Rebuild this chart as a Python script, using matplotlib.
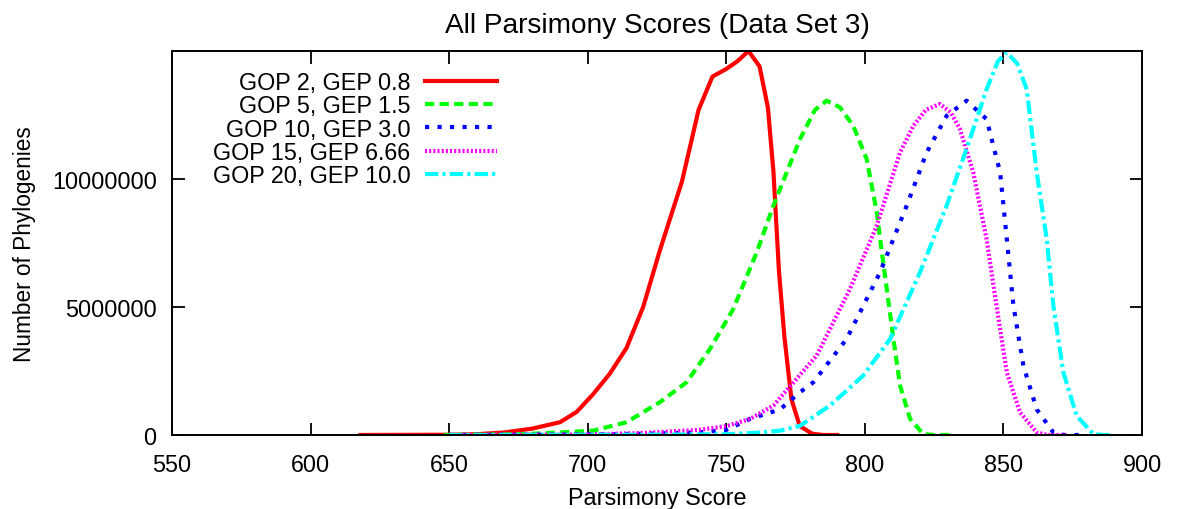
import matplotlib
matplotlib.use('Agg')
import matplotlib.pyplot as plt

# parsimony score vs number of phylogenies (millions)
gop2_x = [618, 650, 660, 670, 680, 690, 696, 702, 708, 714, 720, 726, 734, 740, 745, 750, 754,
          758, 762, 765, 767, 769, 771, 773.5, 776.5, 781, 785, 790]
gop2_y = [0, 0.01, 0.03, 0.1, 0.25, 0.5, 0.9, 1.6, 2.4, 3.4, 5.0, 7.2, 9.9, 12.7, 14.0, 14.3, 14.6,
          15.0, 14.4, 12.8, 10.3, 6.4, 3.8, 1.4, 0.35, 0.05, 0, 0]

gop5_x = [648, 670, 680, 690, 702, 714, 726, 735.7, 744.1, 752.5, 761, 767, 776.6, 782, 786.2,
          791, 795.8, 800.6, 804.3, 805.5, 807.9, 810.3, 812.7, 816.3, 821, 825, 831]
gop5_y = [0, 0.02, 0.05, 0.1, 0.17, 0.5, 1.28, 2.06, 3.36, 4.92, 7.14, 8.96, 11.56, 12.7, 13.06,
          12.8, 12.08, 10.8, 8.7, 7.66, 5.7, 3.75, 1.93, 0.63, 0.04, 0, 0]

gop10_x = [650, 700, 720, 740, 750, 758.6, 769.4, 776.6, 781.4, 793.4, 805.5, 815.1, 822.3,
           829.5, 836.7, 843.9, 848.8, 851.2, 853.6, 857.2, 862, 868, 872, 877.6]
gop10_y = [0, 0.02, 0.05, 0.1, 0.2, 0.63, 1.0, 1.67, 2.06, 3.75, 6.36, 8.96, 11.04, 12.47,
           13.06, 12.34, 10.26, 7.66, 5.05, 2.7, 1.0, 0.1, 0, 0]

gop15_x = [650, 700, 720, 740, 750.2, 758.6, 767, 782.6, 794.6, 804.3, 812.7, 817.5, 822, 827.1,
           831, 834.3, 839.1, 843.9, 847.5, 851.2, 856, 862, 866, 872.8]
gop15_y = [0, 0.02, 0.08, 0.2, 0.35, 0.63, 1.15, 3.1, 5.7, 8.18, 11.04, 12.08, 12.7, 12.93,
           12.6, 11.95, 10.26, 7.66, 5.05, 2.45, 0.88, 0.1, 0, 0]

gop20_x = [650, 720, 750, 760, 769.4, 776.6, 787.4, 799.4, 809.1, 819.9, 829.5, 837.9,
           843.9, 848, 851.2, 855, 858.4, 862, 865.6, 868, 871.6, 876.4, 882.4, 886, 889.6]
gop20_y = [0, 0.01, 0.03, 0.08, 0.17, 0.36, 1.15, 2.32, 3.75, 6.36, 8.96, 11.56,
           13.5, 14.6, 14.95, 14.5, 13.5, 10.26, 7.66, 5.05, 2.45, 0.75, 0.04, 0, 0]

labels = ['GOP 2, GEP 0.8', 'GOP 5, GEP 1.5', 'GOP 10, GEP 3.0',
          'GOP 15, GEP 6.66', 'GOP 20, GEP 10.0']

plt.rcParams['font.family'] = ['Liberation Sans', 'DejaVu Sans']
plt.rcParams['font.size'] = 16.8

fig = plt.figure(figsize=(11.77, 5.1), dpi=100)
ax = fig.add_axes([0.1461, 0.1451, 0.8242, 0.7529])

lw = 3
ax.plot(gop2_x, [v * 1e6 for v in gop2_y], color='#ff0000', lw=lw, ls='-', label=labels[0])
ax.plot(gop5_x, [v * 1e6 for v in gop5_y], color='#00ff00', lw=lw, ls=(0, (2.2, 1.3)), label=labels[1])
ax.plot(gop10_x, [v * 1e6 for v in gop10_y], color='#0000ff', lw=lw, ls=(0, (1, 2)), label=labels[2])
ax.plot(gop15_x, [v * 1e6 for v in gop15_y], color='#ff00ff', lw=lw, ls=(0, (0.5, 0.5)), label=labels[3])
ax.plot(gop20_x, [v * 1e6 for v in gop20_y], color='#00ffff', lw=lw, ls=(0, (3.2, 1, 0.75, 1)), label=labels[4])

ax.set_xlim(550, 900)
ax.set_ylim(0, 15e6)
ax.set_xticks([550, 600, 650, 700, 750, 800, 850, 900])
ax.set_yticks([0, 5000000, 10000000])
ax.ticklabel_format(axis='y', style='plain', useOffset=False)
ax.tick_params(direction='in', length=9, width=1.3, top=True, right=True)
ax.tick_params(axis='x', pad=13)
ax.tick_params(axis='y', pad=11)
for s in ax.spines.values():
    s.set_linewidth(1.4)

ax.set_title('All Parsimony Scores (Data Set 3)', pad=14)
ax.set_xlabel('Parsimony Score', labelpad=7)
ax.set_ylabel('Number of Phylogenies', fontsize=16.3, labelpad=11.5)

ax.legend(loc='upper right', bbox_to_anchor=(0.352, 0.99), markerfirst=False, frameon=False,
          handlelength=3.1, handletextpad=0.62, labelspacing=0.01, borderaxespad=0.5, borderpad=0.2)

fig.savefig('out.png', dpi=100)
